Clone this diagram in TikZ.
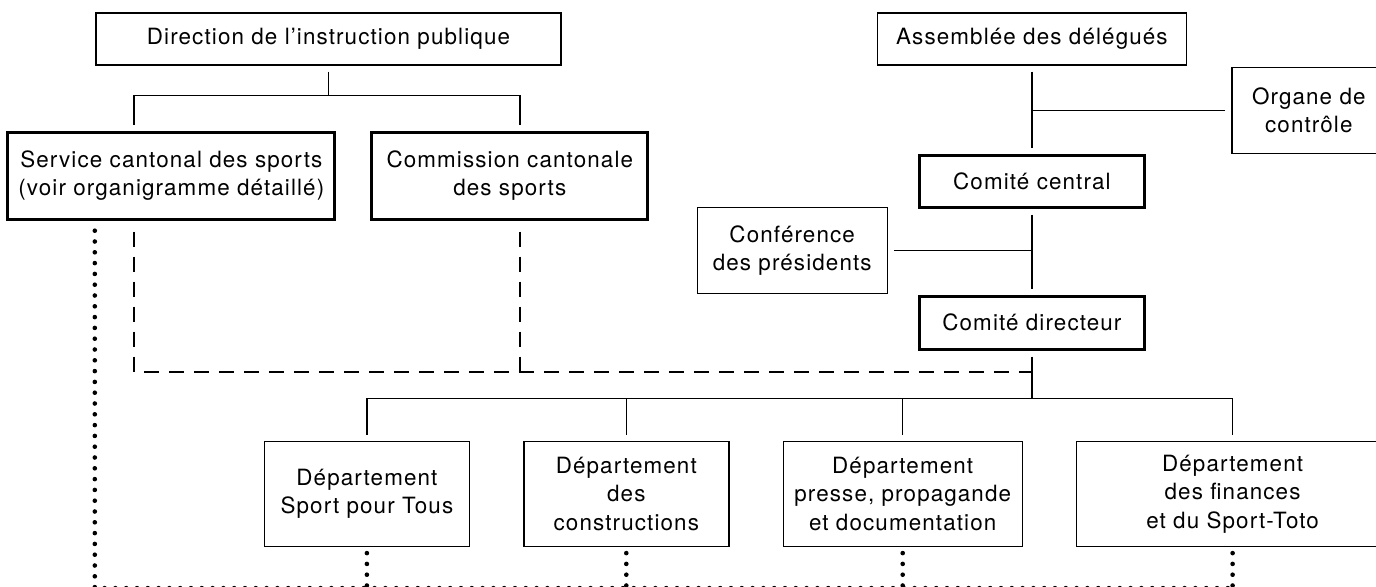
\documentclass[tikz,border=0pt]{standalone}
\usepackage{fontspec}
\setmainfont{TeX Gyre Heros}[LetterSpace=5]
\usepackage{tikz}
\usetikzlibrary{positioning}

\begin{document}
\begin{tikzpicture}[
    every node/.style={draw, align=center, line width=0.7pt, inner sep=2pt},
    strong/.style={line width=1.5pt},
    link/.style={line width=0.7pt, shorten <=3pt, shorten >=3pt},
    dashlink/.style={line width=1.2pt, dash pattern=on 7.5pt off 5pt},
    dotlink/.style={line width=2.3pt, line cap=round, dash pattern=on 0pt off 5.4pt}
]
\fontsize{11.2pt}{14.2pt}\selectfont
\useasboundingbox (0,0) rectangle (688pt,-293pt);
\clip (0,0) rectangle (688pt,-293pt);
\node (DIRECTION) [minimum width=232.5pt, minimum height=26pt] at (164.25pt,-19.5pt) {Direction de l’instruction publique};
\node (SERVICE) [strong, minimum width=163.5pt, minimum height=43.5pt, below left=32.5pt and -120.5pt of DIRECTION] {Service cantonal des sports\\(voir organigramme détaillé)};
\node (COMMISSION) [strong, minimum width=138pt, minimum height=43.5pt, right=17pt of SERVICE] {Commission cantonale\\des sports};
\node (ASSEMBLEE) [minimum width=154.5pt, minimum height=26pt, right=157.5pt of DIRECTION] {Assemblée des délégués};
\node (ORGANE) [minimum width=77pt, minimum height=43pt, below right=0.5pt and 22pt of ASSEMBLEE] {Organe de\\contrôle};
\node (CENTRAL) [strong, minimum width=112.5pt, minimum height=26pt, below=44pt of ASSEMBLEE] {Comité central};
\node (DIRECTEUR) [strong, minimum width=112.5pt, minimum height=26.5pt, below=43pt of CENTRAL] {Comité directeur};
\node (CONFERENCE) [minimum width=95pt, minimum height=43pt, below left=-1pt and 15pt of CENTRAL] {Conférence\\des présidents};
\node (PRESSE) [minimum width=119.5pt, minimum height=52.5pt, below left=45pt and -52.5pt of DIRECTEUR] {Département\\presse, propagande\\et documentation};
\node (CONSTRUCTIONS) [minimum width=102.5pt, minimum height=52.5pt, left=26.5pt of PRESSE] {Département\\des\\constructions};
\node (SPORTTOUS) [minimum width=102.5pt, minimum height=52.5pt, left=26.5pt of CONSTRUCTIONS] {Département\\Sport pour Tous};
\node (FINANCES) [minimum width=156pt, minimum height=52.5pt, right=26.5pt of PRESSE] {Département\\des finances\\et du Sport-Toto};
\coordinate (DIRFORK) at ([yshift=-15pt]DIRECTION.south);
\coordinate (DASHJOIN) at ([yshift=-10.5pt]DIRECTEUR.south);
\coordinate (DEPFORK) at ([yshift=-24pt]DIRECTEUR.south);
\coordinate (DOTBUS) at ([yshift=-20.5pt]FINANCES.south);
\coordinate (SERLINK) at ([xshift=-18.75pt]SERVICE.north);
\coordinate (SERDASH) at ([xshift=-18.75pt]SERVICE.south);
\coordinate (SERDOT) at ([xshift=-38.25pt]SERVICE.south);
\coordinate (COMLINK) at ([xshift=5pt]COMMISSION.north);
\coordinate (COMDASH) at ([xshift=5pt]COMMISSION.south);
\draw [link, shorten >=0pt] (DIRECTION) -- (DIRFORK);
\draw [link, shorten <=0pt] (DIRFORK) -| (SERLINK);
\draw [link, shorten <=0pt] (DIRFORK) -| (COMLINK);
\draw [link] (ASSEMBLEE) -- (CENTRAL);
\draw [link, shorten >=0pt] (ORGANE) -- (ORGANE -| ASSEMBLEE);
\draw [link] (CENTRAL) -- (DIRECTEUR);
\draw [link, shorten >=0pt] (CONFERENCE) -- (CONFERENCE -| CENTRAL);
\draw [link, shorten >=0pt] (DIRECTEUR) -- (DEPFORK);
\foreach \dept in {SPORTTOUS, CONSTRUCTIONS, PRESSE, FINANCES}
    \draw [link, shorten <=0pt] (DEPFORK) -| (\dept.north);
\draw [dashlink, shorten <=5.5pt] (SERDASH) |- (DASHJOIN);
\draw [dashlink, shorten <=5.5pt] (COMDASH) -- (COMDASH |- DASHJOIN);
\draw [dotlink, shorten <=5pt] (SERDOT) |- (DOTBUS);
\foreach \dept in {SPORTTOUS, CONSTRUCTIONS, PRESSE, FINANCES}
    \draw [dotlink, shorten <=3pt] (\dept) -- (\dept |- DOTBUS);

\end{tikzpicture}
\end{document}
